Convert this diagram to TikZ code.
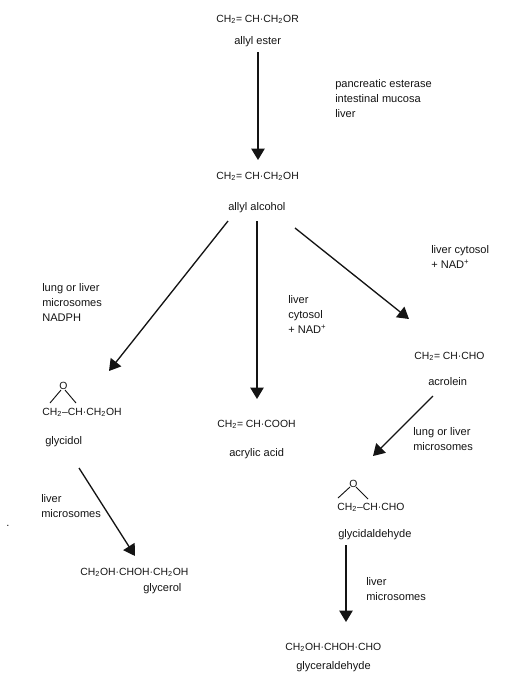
\documentclass[tikz,border=0pt]{standalone}
\usepackage{fontspec}
\setmainfont{Liberation Sans}
\usetikzlibrary{arrows.meta}
\newcommand{\dois}{\textsubscript{2}}
\newcommand{\ponto}{\textperiodcentered}
\definecolor{tinta}{RGB}{20,20,20}
\tikzset{
  texto/.style={anchor=base west,inner sep=0pt,text=tinta,font=\fontsize{8.3pt}{11.25pt}\selectfont,align=left},
  formula/.style={anchor=base west,inner sep=0pt,text=tinta,font=\fontsize{7.8pt}{10pt}\selectfont},
  seta/.style={-{Triangle[length=8.5pt,width=10pt]},line width=1pt,tinta},
  ligacao/.style={line width=0.7pt,tinta}
}
\begin{document}
\begin{tikzpicture}[x=0.75pt,y=-0.75pt]
\useasboundingbox (0,0) rectangle (526,686);
\node[formula] (ester) at (216,22) {CH\dois= CH\ponto CH\dois OR};
\node[texto] (esternome) at (234,44) {allyl ester};
\node[texto] (esterase) at (335,117) {pancreatic esterase\\intestinal mucosa\\liver};
\node[formula] (alcool) at (216,179) {CH\dois= CH\ponto CH\dois OH};
\node[texto] (alcoolnome) at (228,210) {allyl alcohol};
\node[texto] (microsomas) at (42,321) {lung or liver\\microsomes\\NADPH};
\node[texto] (citosol) at (288,333) {liver\\cytosol\\+ NAD\textsuperscript{+}};
\node[texto] (citosold) at (431,268) {liver cytosol\\+ NAD\textsuperscript{+}};
\node[formula] (acroleina) at (414,359) {CH\dois= CH\ponto CHO};
\node[texto] (acroleinanome) at (428,385) {acrolein};
\node[formula] (acrilico) at (217,427) {CH\dois= CH\ponto COOH};
\node[texto] (acrilicnome) at (229,456) {acrylic acid};
\node[formula] (oxigenio) at (59,389) {O};
\node[formula] (glicidol) at (42,415) {CH\dois--CH\ponto CH\dois OH};
\node[texto] (glicidolnome) at (45,444) {glycidol};
\node[texto] (micro) at (41,517) {liver\\microsomes};
\node[formula] (glicerol) at (80,575) {CH\dois OH\ponto CHOH\ponto CH\dois OH};
\node[texto] (glicerolnome) at (143,591) {glycerol};
\node[texto] (microd) at (413,450) {lung or liver\\ microsomes};
\node[formula] (oxigeniod) at (349,487) {O};
\node[formula] (glicidal) at (337,510) {CH\dois--CH\ponto CHO};
\node[texto] (glicidalnome) at (338,537) {glycidaldehyde};
\node[texto] (microb) at (366,600) {liver\\microsomes};
\node[formula] (gliceral) at (285,650) {CH\dois OH\ponto CHOH\ponto CHO};
\node[texto] (gliceralnome) at (296,669) {glyceraldehyde};
\node[texto] (pingo) at (6,526) {.};
\draw[seta] ([shift={(24,8)}]esternome.base west) -- ([shift={(42,-19)}]alcool.base west);
\draw[seta] ([shift={(0,11)}]alcoolnome.base west) -- ([shift={(67,-44)}]glicidol.base west);
\draw[seta] ([shift={(29,11)}]alcoolnome.base west) -- ([shift={(40,-28)}]acrilico.base west);
\draw[seta] ([shift={(67,18)}]alcoolnome.base west) -- ([shift={(-5,-40)}]acroleina.base west);
\draw[seta] ([shift={(5,11)}]acroleinanome.base west) -- ([shift={(36,-54)}]glicidal.base west);
\draw[seta] ([shift={(34,24)}]glicidolnome.base west) -- ([shift={(55,-19)}]glicerol.base west);
\draw[seta] ([shift={(8,8)}]glicidalnome.base west) -- ([shift={(61,-28)}]gliceral.base west);
\draw[ligacao] ([shift={(2,1)}]oxigenio.base west) -- ([shift={(8,-12)}]glicidol.base west);
\draw[ligacao] ([shift={(6,1)}]oxigenio.base west) -- ([shift={(34,-12)}]glicidol.base west);
\draw[ligacao] ([shift={(1,0)}]oxigeniod.base west) -- ([shift={(1,-12)}]glicidal.base west);
\draw[ligacao] ([shift={(7,0)}]oxigeniod.base west) -- ([shift={(31,-11)}]glicidal.base west);
\end{tikzpicture}
\end{document}
